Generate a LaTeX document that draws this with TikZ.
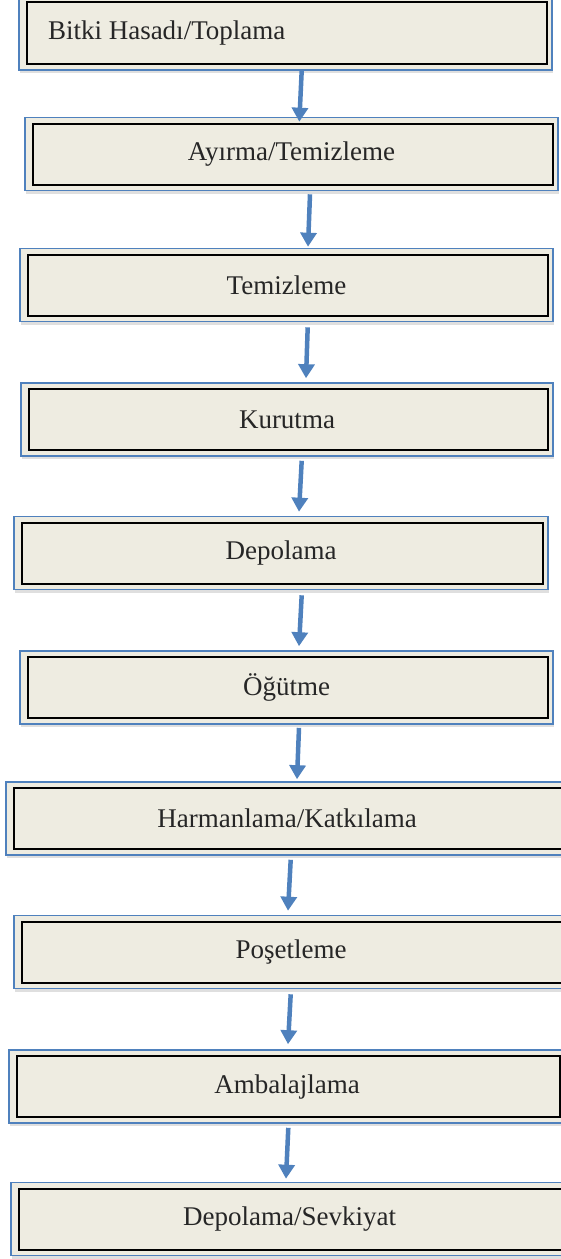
\documentclass[tikz,border=0pt]{standalone}
\usepackage{fontspec}
\setmainfont{Liberation Serif}
\usetikzlibrary{arrows.meta,shadows}
\definecolor{boxfill}{HTML}{EEECE1}
\definecolor{boxblue}{HTML}{4F81BD}

\begin{document}
\begin{tikzpicture}[x=1pt, y=-1pt, >={Triangle[width=16pt,length=14pt]},
  stage/.style={rectangle, draw=boxblue, line width=1.6pt, fill=boxfill,
    minimum height=73pt, inner sep=0pt, text=black!85,
    font=\fontsize{27}{31}\selectfont,
    drop shadow={shadow xshift=1pt, shadow yshift=-3pt, opacity=0.25},
    path picture={\draw[black, line width=2pt]
      ([xshift=7.5pt,yshift=-6pt]path picture bounding box.north west) rectangle
      ([xshift=-5.5pt,yshift=6pt]path picture bounding box.south east);}},
  flow/.style={->, boxblue, line width=4.5pt}]

\useasboundingbox (0,0) rectangle (561,1259);
\clip (0,0) rectangle (561,1259);

\node[stage, minimum width=533pt, minimum height=74pt, text width=475pt,
  inner xsep=29pt, align=flush left] (hasat) at (285.5,33) {Bitki Hasadı/Toplama};
\node[stage, minimum width=533pt] (ayirma) at (291.5,154) {Ayırma/Temizleme};
\node[stage, minimum width=533pt] (temizleme) at (286.5,285) {Temizleme};
\node[stage, minimum width=532pt] (kurutma) at (287,419.5) {Kurutma};
\node[stage, minimum width=534pt] (depolama) at (281,553) {Depolama};
\node[stage, minimum width=533pt] (ogutme) at (286.5,687.5) {Öğütme};
\node[stage, minimum width=562pt] (harmanlama) at (287,818.5) {Harmanlama/Katkılama};
\node[stage, minimum width=554pt] (posetleme) at (291,952) {Poşetleme};
\node[stage, minimum width=556pt] (ambalaj) at (287,1086.5) {Ambalajlama};
\node[stage, minimum width=557pt] (sevkiyat) at (289.5,1219) {Depolama/Sevkiyat};

\foreach \a/\b/\sx/\sy/\ex/\ey in {hasat/ayirma/16.2/0/7.8/-5,
  ayirma/temizleme/18.5/-3/21.5/1, temizleme/kurutma/21.2/-5/19/4,
  kurutma/depolama/14.7/-4/18/4, depolama/ogutme/20.7/-5/12.5/4,
  ogutme/harmanlama/12.5/-3/10/2, harmanlama/posetleme/3.7/-4/-3/4,
  posetleme/ambalaj/-0.3/-5/1/5, ambalaj/sevkiyat/1.3/-4/-3.5/3}
{
	\draw[flow] ([xshift=\sx pt,yshift=\sy pt]\a.south) -- ([xshift=\ex pt,yshift=\ey pt]\b.north);
}

\end{tikzpicture}
\end{document}
